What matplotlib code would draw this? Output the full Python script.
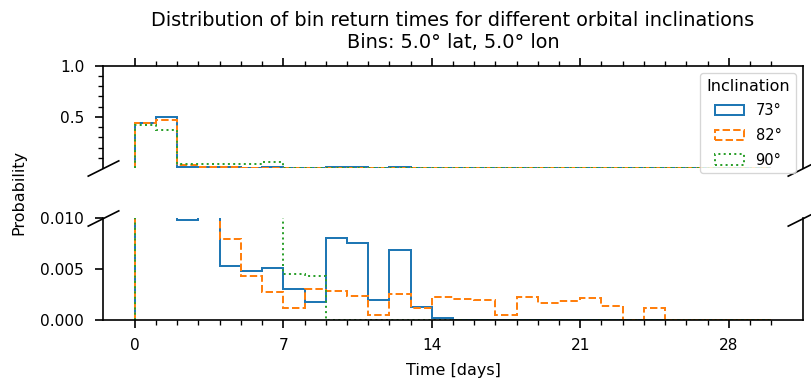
import numpy as np
import matplotlib
matplotlib.use("Agg")
import matplotlib.pyplot as plt
from matplotlib.ticker import MultipleLocator

# daily bins, 0 to 30 days
bin_edges = np.arange(0, 31)

inclinations = ["73°", "82°", "90°"]

# probability per 1-day bin
prob_73 = [0.442, 0.497, 0.0098, 0.012, 0.0053, 0.0048, 0.0051, 0.0030, 0.0018, 0.0081,
           0.0076, 0.0020, 0.0069, 0.0013, 0.0002, 0, 0, 0, 0, 0,
           0, 0, 0, 0, 0, 0, 0, 0, 0, 0]
prob_82 = [0.436, 0.474, 0.030, 0.014, 0.0080, 0.0043, 0.0028, 0.0012, 0.0030, 0.0029,
           0.0024, 0.0005, 0.0026, 0.0012, 0.0023, 0.0021, 0.0020, 0.0005, 0.0023, 0.0017,
           0.0019, 0.0022, 0.0014, 0.0, 0.0012, 0, 0, 0, 0, 0]
prob_90 = [0.416, 0.371, 0.037, 0.037, 0.037, 0.037, 0.055, 0.0045, 0.0043, 0,
           0, 0, 0, 0, 0, 0, 0, 0, 0, 0,
           0, 0, 0, 0, 0, 0, 0, 0, 0, 0]

colors = ["#1f77b4", "#ff7f0e", "#2ca02c"]
styles = ["-", "--", ":"]

plt.rcParams.update({
    "font.family": "DejaVu Sans",
    "axes.linewidth": 1.25,
    "xtick.major.size": 6, "ytick.major.size": 6,
    "xtick.minor.size": 4, "ytick.minor.size": 4,
    "xtick.major.width": 1.25, "ytick.major.width": 1.25,
    "xtick.minor.width": 1.0, "ytick.minor.width": 1.0,
    "xtick.major.pad": 7.5, "ytick.major.pad": 8,
    "xtick.labelsize": 11.5, "ytick.labelsize": 11.5,
    "legend.fontsize": 11, "legend.title_fontsize": 12,
})

W, H = 811, 378
fig = plt.figure(figsize=(W / 96, H / 96), dpi=96)
ax_top = fig.add_axes([103 / W, (H - 168) / H, 700 / W, 102.3 / H])
ax_bot = fig.add_axes([103 / W, (H - 320) / H, 700 / W, 101.7 / H], sharex=ax_top)

for ax in (ax_top, ax_bot):
    for probs, inc, c, ls in zip([prob_73, prob_82, prob_90], inclinations, colors, styles):
        ax.hist(bin_edges[:-1], bins=bin_edges, weights=probs, histtype="step",
                color=c, linestyle=ls, linewidth=1.5, label=inc)

ax_top.set_ylim(0.0, 1.0)
ax_bot.set_ylim(0, 0.010)
ax_top.set_yticks([0.5, 1.0])
ax_top.set_yticks(np.arange(1, 10) / 10, minor=True)
ax_bot.set_yticks([0, 0.005, 0.010])
ax_bot.set_yticklabels(["0.000", "0.005", "0.010"])

ax_bot.xaxis.set_major_locator(MultipleLocator(7))
ax_bot.set_xticks(np.arange(0, 31), minor=True)

# broken axis: hide the facing spines
ax_top.spines["bottom"].set_visible(False)
ax_bot.spines["top"].set_visible(False)
ax_top.xaxis.tick_top()
ax_top.tick_params(which="both", labeltop=False, labelbottom=False)
ax_bot.xaxis.tick_bottom()

kw = dict(marker=[(-1, -0.5), (1, 0.5)], markersize=24, linestyle="none",
          color="k", mec="k", mew=1.25, clip_on=False)
ax_top.plot([0, 1], [0, 0], transform=ax_top.transAxes, **kw)
ax_bot.plot([0, 1], [1, 1], transform=ax_bot.transAxes, **kw)

ax_top.legend(title="Inclination", loc="upper right", labelspacing=0.65)

fig.text(453 / W, 1 - 31.5 / H,
         "Distribution of bin return times for different orbital inclinations\n"
         "Bins: 5.0° lat, 5.0° lon", ha="center", va="center", fontsize=14.4)
fig.text(18.5 / W, 1 - 192 / H, "Probability", rotation=90,
         ha="center", va="center", fontsize=12)
fig.text(453 / W, 1 - 370 / H, "Time [days]", ha="center", va="center", fontsize=12)

fig.savefig("out.png", dpi=96)
